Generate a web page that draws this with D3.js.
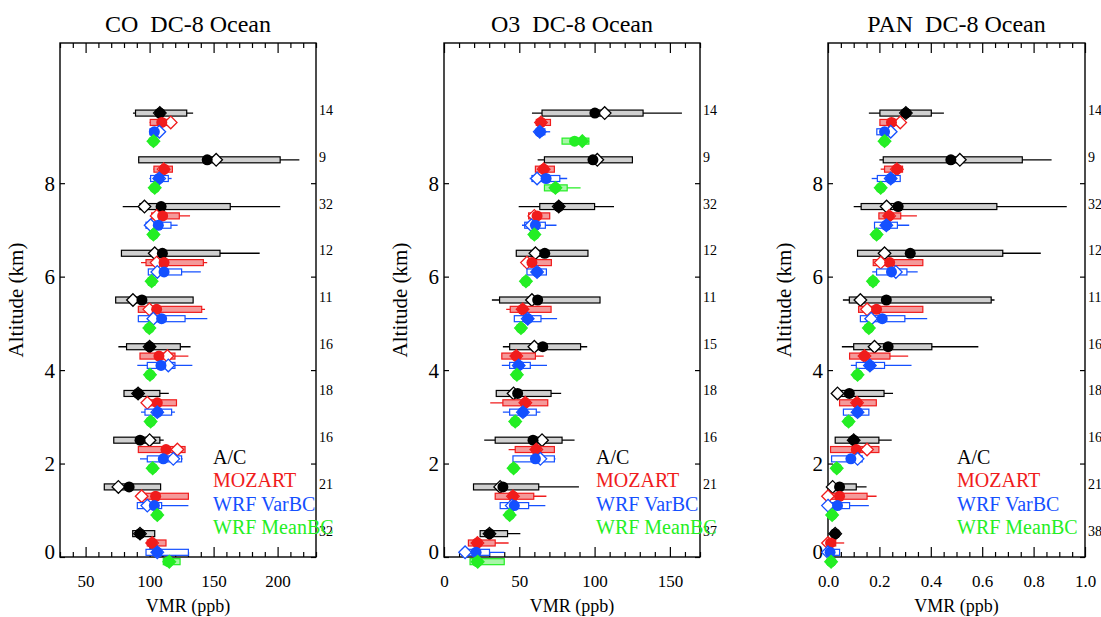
<!DOCTYPE html>
<html>
<head>
<meta charset="utf-8">
<script src="https://cdn.jsdelivr.net/npm/d3@7"></script>
<style>
  body { margin: 0; background: #fff; }
  svg text { font-family: "Liberation Serif", Tinos, "Times New Roman", "DejaVu Serif", serif !important; }
</style>
</head>
<body>
<div id="chart"></div>
<script>
// altitude of each A/C level (km); model rows are drawn just below it
const levels = [9.5, 8.5, 7.5, 6.5, 5.5, 4.5, 3.5, 2.5, 1.5, 0.5];
const seriesNames = ["A/C", "MOZART", "WRF VarBC", "WRF MeanBC"];

// number of samples per level, written at the right of each panel
const coCounts = [14, 9, 32, 12, 11, 16, 18, 16, 21, 32];
const o3Counts = [14, 9, 32, 12, 11, 15, 18, 16, 21, 37];
const panCounts = [14, 9, 32, 12, 11, 16, 18, 16, 21, 38];

// each row: [low, 25th, median, mean, 75th, high]
const coAC = [
  [87, 89, 108, 108, 129, 134], [91, 91.5, 152, 145, 202, 217], [79, 92.5, 96, 109, 163, 202],
  [78, 78, 104, 110, 155, 186], [73.5, 73.5, 87, 94, 134, 134], [75.6, 82, 100, 100, 124, 132],
  [80, 80, 91, 91, 108, 115], [72, 72, 100, 92.5, 108, 111], [64.6, 64.6, 75.6, 84, 108.6, 108.6],
  [86.8, 86.8, 92.5, 92.5, 104, 104]
];
const coMOZ = [
  [100, 100.5, 116.5, 109.5, 115, 117], [103, 103.4, 111, 111.5, 117.8, 118], [101.6, 101.6, 105.5, 110.2, 123.2, 131.6],
  [93.3, 97.2, 105.5, 111.3, 142, 145], [91.2, 91.2, 99.8, 105.5, 140.7, 143.3], [92.5, 92.5, 113.9, 107.3, 119.8, 130.3],
  [96.4, 96.4, 98.2, 106, 121, 121], [91.2, 91.2, 121.7, 112.8, 127.7, 127.7], [91.2, 91.2, 93.8, 104.7, 130.3, 130.3],
  [98.2, 98.2, 102, 102, 112.8, 112.8]
];
const coVar = [
  [99.5, 100.3, 107.6, 103.7, 108, 111], [99.8, 100.8, 107.5, 107.3, 114.6, 117.2], [97.2, 97.2, 100.8, 106.8, 116.7, 121.9],
  [99, 99, 106, 111.3, 125, 140], [91.2, 91.2, 102.9, 109.4, 127.7, 145.1], [90.4, 98.2, 114.6, 108.9, 119.8, 133.4],
  [93.3, 96.4, 106, 106.3, 117.2, 119.8], [92.5, 98.2, 118.5, 110.7, 125, 125.8], [90.4, 90.4, 98.2, 103.7, 109.4, 130.3],
  [97.2, 97.2, 106, 106, 130.3, 130.3]
];
const coMean = [
  [102, 102, 103, 103, 104, 104], [103, 103, 104, 104, 105, 105], [102, 102, 103, 103, 104, 104],
  [101, 101, 101.6, 101.6, 102, 102], [99, 99, 99.8, 99.8, 100.5, 100.5], [99.5, 99.5, 100.3, 100.3, 101, 101],
  [100, 100, 100.8, 100.8, 101.5, 101.5], [101.5, 101.5, 102.4, 102.4, 103, 103], [105, 105, 106, 106, 107, 107],
  [110.7, 110.7, 115.4, 114.6, 123.8, 123.8]
];

const o3AC = [
  [58.4, 65.1, 106.7, 100.2, 132.2, 158], [62.2, 66.7, 101.8, 98.9, 125.1, 125.1], [49.6, 63.6, 76.2, 76.2, 100, 112.9],
  [48, 48, 60.7, 66.9, 95.6, 95.6], [31.8, 36.9, 58.4, 62.2, 103.6, 103.6], [39.1, 43.6, 60, 65.6, 90.7, 95.1],
  [34.7, 34.7, 46.2, 48.9, 71.1, 77.8], [26.7, 34, 65.1, 59.1, 78.4, 86.7], [19.6, 19.6, 37.3, 39.1, 62.9, 89.6],
  [24, 24, 30.2, 30.2, 42.2, 50.7]
];
const o3MOZ = [
  [61.3, 61.3, 64.4, 64.4, 70.7, 70.7], [60.7, 60.7, 66.2, 66.2, 73.3, 73.3], [56.2, 56.2, 60, 61.8, 70.2, 70.2],
  [52.9, 52.9, 55.1, 58.4, 71.3, 71.3], [41.3, 44, 52.2, 52.2, 71.1, 71.1], [38.4, 38.4, 48, 48, 60.7, 66.2],
  [30.7, 39.1, 54, 54, 68.9, 68.9], [42.9, 47.3, 61.3, 61.3, 73.3, 73.3], [34, 34, 45.8, 45.8, 59.6, 68],
  [16.2, 16.2, 22.2, 22.2, 34, 42.9]
];
const o3Var = [
  [60, 61.5, 63.6, 63.6, 67, 70.5], [56.9, 58.4, 61.8, 67.8, 76.9, 81.8], [51.8, 53.6, 58, 60.7, 67.3, 74.7],
  [55.1, 55.1, 61.8, 61.8, 68, 68], [46.7, 46.7, 55.6, 55.6, 64.4, 75.1], [38.4, 43.6, 49.6, 49.6, 57.3, 68.4],
  [39.1, 43.6, 52.4, 52.4, 61.3, 64], [45.8, 45.8, 64, 60.7, 73.3, 74], [37.3, 37.3, 45, 46.7, 56.2, 67.3],
  [12.2, 12.2, 14, 21.3, 30.2, 40]
];
const o3Mean = [
  [78.4, 78.4, 91.8, 86.7, 96.2, 96.2], [66.7, 66.7, 74, 74, 81.8, 90.7], [59, 59, 60, 60, 61, 61],
  [53.5, 53.5, 54.4, 54.4, 55.3, 55.3], [50.2, 50.2, 51.1, 51.1, 52, 52], [47.5, 47.5, 48.4, 48.4, 49.3, 49.3],
  [46.4, 46.4, 47.3, 47.3, 48.2, 48.2], [45.3, 45.3, 46.2, 46.2, 47.1, 47.1], [42.7, 42.7, 43.6, 43.6, 44.5, 44.5],
  [17.3, 17.3, 22.4, 22, 40, 40]
];

const panAC = [
  [0.159, 0.202, 0.303, 0.303, 0.402, 0.451], [0.2, 0.215, 0.513, 0.478, 0.756, 0.87], [0.1, 0.129, 0.228, 0.273, 0.657, 0.929],
  [0.115, 0.115, 0.22, 0.32, 0.68, 0.828], [0.058, 0.083, 0.126, 0.227, 0.635, 0.648], [0.054, 0.1, 0.181, 0.234, 0.404, 0.585],
  [0.028, 0.028, 0.037, 0.083, 0.218, 0.253], [0.028, 0.028, 0.1, 0.1, 0.198, 0.248], [0.018, 0.018, 0.018, 0.045, 0.11, 0.15],
  [0.015, 0.015, 0.028, 0.028, 0.04, 0.04]
];
const panMOZ = [
  [0.202, 0.202, 0.281, 0.247, 0.283, 0.283], [0.205, 0.22, 0.268, 0.268, 0.29, 0.29], [0.198, 0.198, 0.238, 0.238, 0.283, 0.346],
  [0.176, 0.176, 0.205, 0.24, 0.369, 0.369], [0.119, 0.119, 0.152, 0.189, 0.369, 0.369], [0.084, 0.084, 0.142, 0.142, 0.241, 0.312],
  [0.045, 0.045, 0.113, 0.113, 0.188, 0.188], [0.01, 0.01, 0.152, 0.11, 0.198, 0.198], [0, 0, 0, 0.045, 0.152, 0.189],
  [0, 0, 0, 0.01, 0.03, 0.063]
];
const panVar = [
  [0.19, 0.19, 0.244, 0.22, 0.25, 0.25], [0.17, 0.192, 0.244, 0.244, 0.281, 0.281], [0.181, 0.181, 0.227, 0.227, 0.27, 0.316],
  [0.172, 0.189, 0.264, 0.247, 0.307, 0.349], [0.126, 0.126, 0.168, 0.211, 0.299, 0.386], [0.089, 0.11, 0.163, 0.163, 0.22, 0.325],
  [0.06, 0.06, 0.115, 0.115, 0.159, 0.159], [0.014, 0.014, 0.115, 0.089, 0.133, 0.133], [0, 0, 0, 0.037, 0.084, 0.159],
  [0, 0, 0, 0.008, 0.045, 0.045]
];
const panMean = [
  [0.215, 0.215, 0.22, 0.22, 0.225, 0.225], [0.2, 0.2, 0.205, 0.205, 0.21, 0.21], [0.184, 0.184, 0.189, 0.189, 0.194, 0.194],
  [0.17, 0.17, 0.175, 0.175, 0.18, 0.18], [0.154, 0.154, 0.159, 0.159, 0.164, 0.164], [0.11, 0.11, 0.115, 0.115, 0.12, 0.12],
  [0.075, 0.075, 0.08, 0.08, 0.085, 0.085], [0.029, 0.029, 0.034, 0.034, 0.039, 0.039], [0.011, 0.011, 0.016, 0.016, 0.021, 0.021],
  [0.007, 0.007, 0.012, 0.012, 0.017, 0.017]
];

const coTicks = [50, 100, 150, 200];
const o3Ticks = [0, 50, 100, 150];
const panTicks = [0, 0.2, 0.4, 0.6, 0.8, 1.0];
const altTicks = [0, 2, 4, 6, 8];

const W = 1101, H = 617;
const plotTop = 43, plotBottom = 557;
const serif = '"Liberation Serif", Tinos, "Times New Roman", "DejaVu Serif", serif';

const colors = ["#000000", "#f01c1c", "#1450ff", "#24ee24"];
const boxFill = ["#d0d0d0", "#f49a9a", "#ffffff", "#a8f6a8"];
const diamondFill = ["#ffffff", "#ffffff", "#ffffff", "#24ee24"];
const rowShift = [0, -0.2, -0.4, -0.6];

const panels = [
  { title: "CO  DC-8 Ocean", left: 60, right: 316, domain: [30, 230], ticks: coTicks, minor: 10,
    fmt: d3.format("d"), rows: [coAC, coMOZ, coVar, coMean], counts: coCounts, legendX: 213 },
  { title: "O3  DC-8 Ocean", left: 444, right: 700, domain: [0, 170], ticks: o3Ticks, minor: 10,
    fmt: d3.format("d"), rows: [o3AC, o3MOZ, o3Var, o3Mean], counts: o3Counts, legendX: 596 },
  { title: "PAN  DC-8 Ocean", left: 828, right: 1085, domain: [0, 1.0], ticks: panTicks, minor: 0.05,
    fmt: d3.format(".1f"), rows: [panAC, panMOZ, panVar, panMean], counts: panCounts, legendX: 957 }
];

const svg = d3.select("#chart").append("svg")
  .attr("width", W).attr("height", H)
  .style("font-family", serif);
svg.append("rect").attr("width", W).attr("height", H).attr("fill", "#fff");

const y = d3.scaleLinear().domain([0, 11]).range([plotBottom, plotTop]);

panels.forEach(p => {
  const x = d3.scaleLinear().domain(p.domain).range([p.left, p.right]);
  const g = svg.append("g");
  const minorVals = d3.range(p.domain[0], p.domain[1] + 1e-9, p.minor)
    .filter(v => !p.ticks.some(t => Math.abs(t - v) < 1e-9));

  // axes: ticks pointing inward, labels only bottom/left
  const bx = g.append("g").attr("transform", `translate(0,${plotBottom})`)
    .call(d3.axisBottom(x).tickValues(p.ticks).tickSize(-10).tickPadding(18).tickFormat(p.fmt));
  bx.selectAll("text").style("font-size", "17px");
  g.append("g").attr("transform", `translate(0,${plotBottom})`)
    .call(d3.axisBottom(x).tickValues(minorVals).tickSize(-5).tickFormat(""));
  g.append("g").attr("transform", `translate(0,${plotTop})`)
    .call(d3.axisTop(x).tickValues(p.ticks).tickSize(-10).tickFormat(""));
  g.append("g").attr("transform", `translate(0,${plotTop})`)
    .call(d3.axisTop(x).tickValues(minorVals).tickSize(-5).tickFormat(""));
  const ly = g.append("g").attr("transform", `translate(${p.left},0)`)
    .call(d3.axisLeft(y).tickValues(altTicks).tickSize(-5).tickPadding(5));
  ly.selectAll("text").style("font-size", "21px")
    .attr("dy", d => d === 0 ? "0.05em" : "0.34em");
  g.append("g").attr("transform", `translate(${p.right},0)`)
    .call(d3.axisRight(y).tickValues(altTicks).tickSize(-5).tickFormat(""));
  g.selectAll(".domain").remove();
  g.selectAll("g").attr("font-family", null);
  g.selectAll(".tick line").attr("stroke", "#000").attr("stroke-width", 1.2);
  g.selectAll(".tick text").attr("fill", "#000").style("font-family", serif);

  g.append("rect")
    .attr("x", p.left).attr("y", plotTop)
    .attr("width", p.right - p.left).attr("height", plotBottom - plotTop)
    .attr("fill", "none").attr("stroke", "#000").attr("stroke-width", 1.4);

  // titles
  g.append("text").attr("x", (p.left + p.right) / 2).attr("y", 32)
    .attr("text-anchor", "middle").style("font-size", "24px")
    .style("white-space", "pre").attr("xml:space", "preserve").text(p.title);
  g.append("text").attr("x", (p.left + p.right) / 2).attr("y", 612)
    .attr("text-anchor", "middle").style("font-size", "18px").text("VMR (ppb)");
  g.append("text")
    .attr("transform", `translate(${p.left - 37},${(plotTop + plotBottom) / 2}) rotate(-90)`)
    .attr("text-anchor", "middle").style("font-size", "21px").text("Altitude (km)");

  // sample counts
  g.selectAll(".count").data(p.counts).join("text")
    .attr("class", "count")
    .attr("x", p.right + 3)
    .attr("y", (d, i) => y(levels[i]) + 2)
    .style("font-size", "14px")
    .text(d => d);

  // box plots, one row per series under each level
  p.rows.forEach((rows, s) => {
    const c = colors[s];
    const rg = g.append("g");
    const yy = i => y(levels[i] + rowShift[s]);
    rg.selectAll("line.wh").data(rows).join("line").attr("class", "wh")
      .attr("x1", d => x(d[0])).attr("x2", d => x(d[5]))
      .attr("y1", (d, i) => yy(i)).attr("y2", (d, i) => yy(i))
      .attr("stroke", c).attr("stroke-width", 1.3);
    rg.selectAll("rect.bx").data(rows).join("rect").attr("class", "bx")
      .attr("x", d => x(d[1])).attr("width", d => Math.max(0, x(d[4]) - x(d[1])))
      .attr("y", (d, i) => yy(i) - 3).attr("height", 6)
      .attr("fill", boxFill[s]).attr("stroke", c).attr("stroke-width", 1.2);
    rg.selectAll("path.md").data(rows).join("path").attr("class", "md")
      .attr("transform", (d, i) => `translate(${x(d[2])},${yy(i)})`)
      .attr("d", "M0,-6.3L6.3,0L0,6.3L-6.3,0Z")
      .attr("fill", diamondFill[s]).attr("stroke", c).attr("stroke-width", 1.3);
    rg.selectAll("circle.mn").data(rows).join("circle").attr("class", "mn")
      .attr("cx", d => x(d[3])).attr("cy", (d, i) => yy(i)).attr("r", 5.5)
      .attr("fill", c);
  });

  // legend
  seriesNames.forEach((n, s) => {
    g.append("text").attr("x", p.legendX).attr("y", 464 + s * 23.3)
      .style("fill", colors[s])
      .style("font-size", "20px").text(n);
  });
});
</script>
</body>
</html>
